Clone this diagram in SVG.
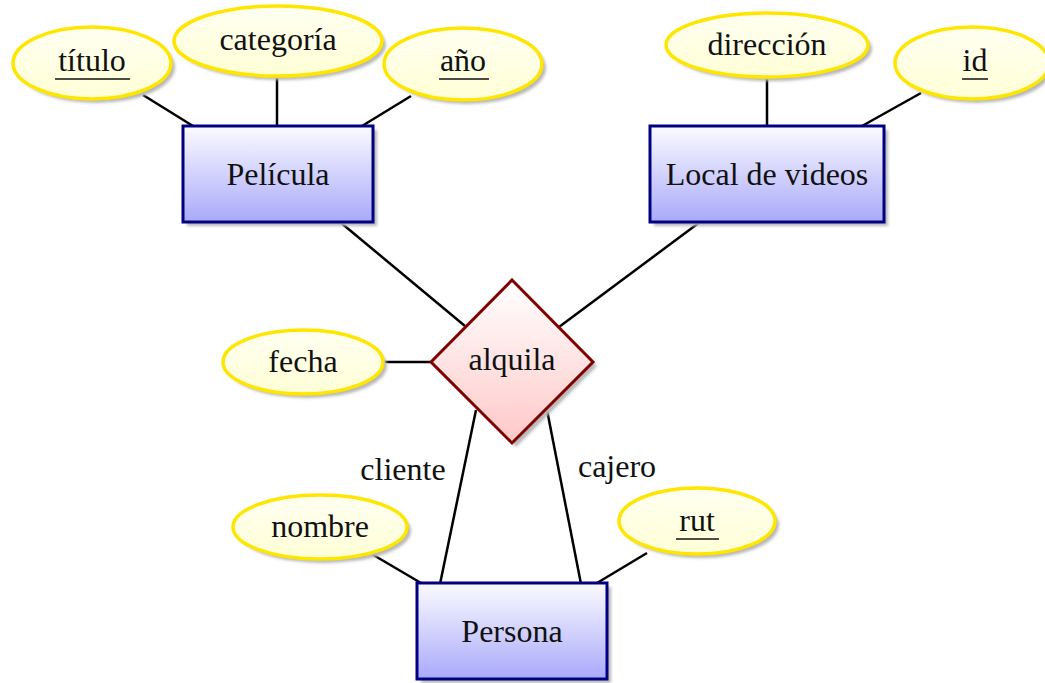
<svg xmlns="http://www.w3.org/2000/svg" width="1045" height="683" viewBox="0 0 1045 683" font-family="'Liberation Serif', 'DejaVu Serif', 'Times New Roman', serif">
<defs>
<linearGradient id="gEnt" x1="0" y1="0" x2="0" y2="1"><stop offset="0" stop-color="#fbfbff"/><stop offset="1" stop-color="#a9a9fb"/></linearGradient>
<linearGradient id="gRel" x1="0" y1="0" x2="0" y2="1"><stop offset="0" stop-color="#ffffff"/><stop offset="1" stop-color="#ffc8c8"/></linearGradient>
<linearGradient id="gAtt" x1="0" y1="0" x2="0" y2="1"><stop offset="0" stop-color="#fffff2"/><stop offset="1" stop-color="#ffffd6"/></linearGradient>
<filter id="blur" x="-20%" y="-20%" width="140%" height="140%"><feGaussianBlur stdDeviation="1.5"/></filter>
</defs>
<style>
.ent{fill:url(#gEnt);stroke:#000080;stroke-width:3}
.rel{fill:url(#gRel);stroke:#800000;stroke-width:3}
.att{fill:url(#gAtt);stroke:#ffe600;stroke-width:3.5}
.sh{fill:#b8b8b8;filter:url(#blur)}
.t{font-family:'Liberation Serif','DejaVu Serif',serif;font-size:32px;fill:#111;text-anchor:middle}
.ul{stroke:#111;stroke-width:1.5}
.c{stroke:#000;stroke-width:2.5;fill:none}
</style>
<rect width="1045" height="683" fill="#fff"/>
<g id="connectors">
<line class="c" x1="143" y1="95" x2="193" y2="126"/>
<line class="c" x1="277" y1="77" x2="277" y2="126"/>
<line class="c" x1="411" y1="96" x2="362" y2="126"/>
<line class="c" x1="767" y1="77" x2="767" y2="126"/>
<line class="c" x1="921" y1="93" x2="862" y2="126"/>
<line class="c" x1="340" y1="222" x2="465" y2="326"/>
<line class="c" x1="700" y1="222" x2="559" y2="327"/>
<line class="c" x1="383" y1="362" x2="431" y2="362"/>
<line class="c" x1="476" y1="410" x2="440" y2="584"/>
<line class="c" x1="547" y1="410" x2="581" y2="584"/>
<line class="c" x1="370" y1="553" x2="421" y2="583"/>
<line class="c" x1="647" y1="553" x2="597" y2="583"/>
<text class="t" x="403" y="480">cliente</text>
<text class="t" x="617" y="477">cajero</text>
</g>
<g id="pelicula">
<rect class="sh" x="187" y="130" width="190" height="96"/>
<rect class="ent" x="183" y="126" width="190" height="96"/>
<text class="t" x="278" y="185">Película</text>
</g>
<g id="local">
<rect class="sh" x="654" y="130" width="234" height="96"/>
<rect class="ent" x="650" y="126" width="234" height="96"/>
<text class="t" x="767" y="185">Local de videos</text>
</g>
<g id="persona">
<rect class="sh" x="421" y="587" width="190" height="96"/>
<rect class="ent" x="417" y="583" width="190" height="96"/>
<text class="t" x="512" y="642">Persona</text>
</g>
<g id="alquila">
<polygon class="sh" points="516,284 597,366 516,447 435,366"/>
<polygon class="rel" points="512,280 593,362 512,443 431,362"/>
<text class="t" x="512" y="370">alquila</text>
</g>
<g id="titulo">
<ellipse class="sh" cx="96" cy="67" rx="79" ry="36"/>
<ellipse class="att" cx="92" cy="63" rx="79" ry="36"/>
<text class="t" x="92" y="71">título</text>
<line class="ul" x1="55" y1="79" x2="130" y2="79"/>
</g>
<g id="categoria">
<ellipse class="sh" cx="282" cy="45" rx="104" ry="35"/>
<ellipse class="att" cx="278" cy="41" rx="104" ry="35"/>
<text class="t" x="278" y="50">categoría</text>
</g>
<g id="anio">
<ellipse class="sh" cx="467" cy="68" rx="79" ry="36"/>
<ellipse class="att" cx="463" cy="64" rx="79" ry="36"/>
<text class="t" x="463" y="71">año</text>
<line class="ul" x1="439" y1="79" x2="489" y2="79"/>
</g>
<g id="direccion">
<ellipse class="sh" cx="771" cy="49" rx="101" ry="32"/>
<ellipse class="att" cx="767" cy="45" rx="101" ry="32"/>
<text class="t" x="767" y="55">dirección</text>
</g>
<g id="id">
<ellipse class="sh" cx="976" cy="67" rx="77" ry="36"/>
<ellipse class="att" cx="972" cy="63" rx="77" ry="36"/>
<text class="t" x="975" y="71">id</text>
<line class="ul" x1="962" y1="79" x2="988" y2="79"/>
</g>
<g id="fecha">
<ellipse class="sh" cx="307" cy="366" rx="80" ry="32"/>
<ellipse class="att" cx="303" cy="362" rx="80" ry="32"/>
<text class="t" x="303" y="372">fecha</text>
</g>
<g id="nombre">
<ellipse class="sh" cx="324" cy="531" rx="87" ry="32"/>
<ellipse class="att" cx="320" cy="527" rx="87" ry="32"/>
<text class="t" x="320" y="537">nombre</text>
</g>
<g id="rut">
<ellipse class="sh" cx="701" cy="525" rx="78" ry="33"/>
<ellipse class="att" cx="697" cy="521" rx="78" ry="33"/>
<text class="t" x="697" y="531">rut</text>
<line class="ul" x1="676" y1="539" x2="719" y2="539"/>
</g>
</svg>
